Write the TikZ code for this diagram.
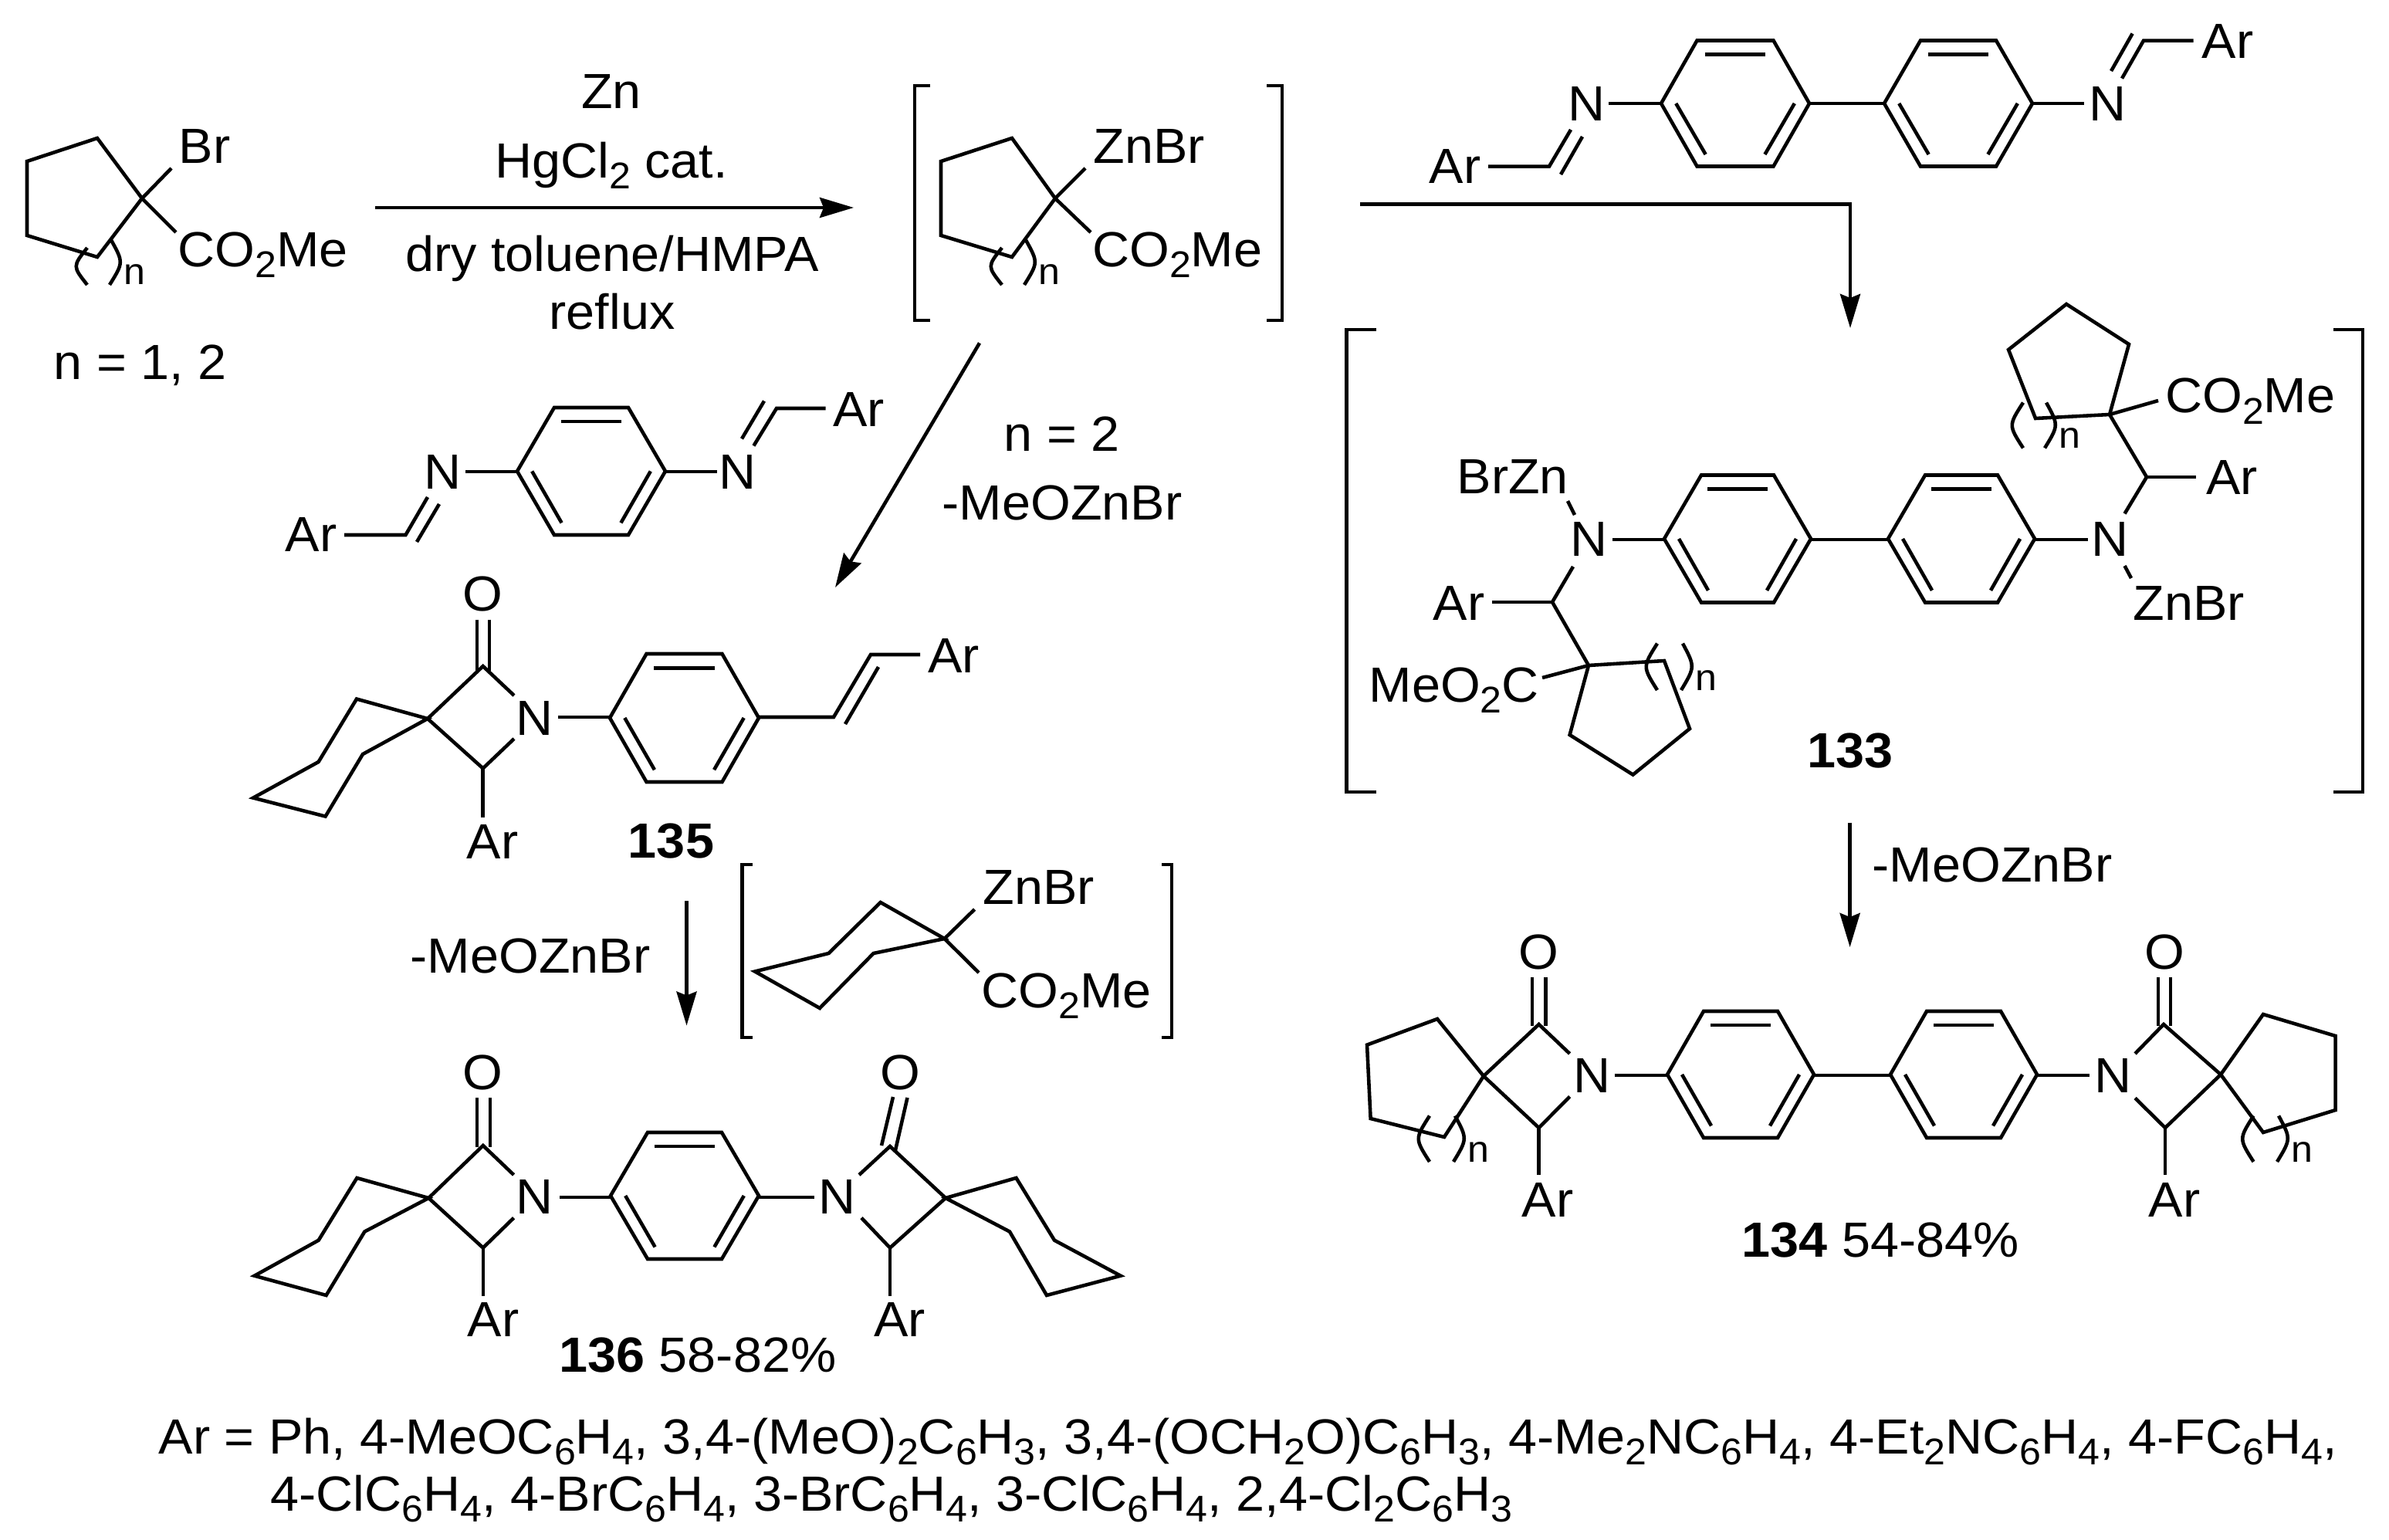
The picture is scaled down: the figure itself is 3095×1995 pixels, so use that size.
\documentclass[tikz,border=0pt]{standalone}
\usepackage{fontspec}
\setmainfont[FakeStretch=1.04]{Liberation Sans}
\usetikzlibrary{arrows.meta}

\newcommand{\chemfont}{\fontsize{18.2}{22}\selectfont}
\newcommand{\lsub}[1]{\raisebox{-0.14cm}{\fontsize{13.7}{14}\selectfont #1}}

\tikzset{
  bond/.style={line width=1.3pt},
  rxn/.style={line width=1.3pt,-{Stealth[length=0.44cm,width=0.26cm,inset=0.05cm]}},
  lab/.style={inner sep=0pt,anchor=base west,font=\chemfont},
  atom/.style={inner sep=0pt,anchor=base,font=\chemfont},
  cnt/.style={inner sep=0pt,anchor=base west,font=\fontsize{13.7}{14}\selectfont},
}

% centre x, centre y, half width, half top edge, half height
\newcommand{\arring}[5]{
\draw[bond] ({#1-#3},#2) -- ({#1-#4},{#2-#5}) -- ({#1+#4},{#2-#5}) -- ({#1+#3},#2)
  -- ({#1+#4},{#2+#5}) -- ({#1-#4},{#2+#5}) -- cycle;
\draw[bond] ({#1-0.41*#3},{#2-0.78*#5}) -- ({#1+0.41*#3},{#2-0.78*#5});
\draw[bond] ({#1-0.8*#3},#2) -- ({#1-0.4*#3},{#2+0.81*#5});
\draw[bond] ({#1+0.8*#3},#2) -- ({#1+0.4*#3},{#2+0.81*#5});
}
% name, left x, left top y, right x, right top y, bottom y
\newcommand{\nloop}[6]{
\draw[bond] ({#2+14},#3) .. controls ({#2-5},{(#3+#6)/2}) .. ({#2+14},#6);
\draw[bond] ({#4-11},#5) .. controls ({#4+5},{(#5+#6)/2}) .. ({#4-13},#6);
\node[cnt] (#1) at ({#4+5},#6) {n};
}
% left x, right x, top y, bottom y, tick
\newcommand{\brpair}[5]{
\draw[bond] ({#1+#5},#3) -- (#1,#3) -- (#1,#4) -- ({#1+#5},#4);
\draw[bond] ({#2-#5},#3) -- (#2,#3) -- (#2,#4) -- ({#2-#5},#4);
}

\begin{document}
\begin{tikzpicture}[x=0.01cm,y=-0.01cm]
\useasboundingbox (0,0) rectangle (3095,1995);

% repeated atoms
\foreach \x/\y/\nm in {2852/75.5/arA,1851/238/arB,1078.5/552.6/arC,369/715/arD,2857.5/640.5/arE,1856/803/arF,
  1201.5/871/arG,604/1112/arH,1971/1576/arI,2783/1576/arJ,605/1731.7/arK,1131.6/1731.7/arL}{
\node[lab] (\nm) at (\x,\y){Ar};}

\foreach \x/\y/\nm in {2055/157/nA,2730/157/nB,574/633.5/nC,956/633.5/nD,2733/721/nE,2058/721/nF,
  2062/1415/nG,2737/1415/nH,693/952/nI,692.6/1572/nJ,1084.6/1572/nK}{
\node[atom] (\nm) at (\x,\y){N};}

\foreach \x/\y/\nm in {1993/1255/oA,2804/1255/oB,625.6/791/oC,625.5/1411/oD,1166/1411/oE}{
\node[atom] (\nm) at (\x,\y){O};}

% bromoester
\draw[bond] (184,257) -- (126,179) -- (35,209) -- (35,305) -- (126,333) -- cycle;
\draw[bond] (222,218) -- (184,257) -- (228,301);
\nloop{cntA}{99}{321}{155}{311}{369}
\node[lab] (brA) at (231,212){Br};
\node[lab] (esterA) at (230,346){CO\lsub{2}Me};
\node[lab] (nval) at (69,492){n = 1, 2};

% zinc reagent
\draw[bond] (1367,257) -- (1311,179) -- (1219,209) -- (1219,305) -- (1311,333) -- cycle;
\draw[bond] (1406,218) -- (1367,257) -- (1413,301);
\nloop{cntB}{1284}{321}{1340}{311}{369}
\node[lab] (znA) at (1416,212){ZnBr};
\node[lab] (esterB) at (1414.5,346){CO\lsub{2}Me};
\brpair{1185}{1661}{111}{415}{20}

% conditions
\node[atom] (cZn) at (792,141){Zn};
\node[atom] (cHg) at (792,231){HgCl\lsub{2} cat.};
\node[atom] (cTol) at (793,352){dry toluene/HMPA};
\node[atom] (cRef) at (793,427){reflux};
\coordinate (aS) at (486,269);
\coordinate (aE) at (1106,269);
\draw[rxn] (aS) -- (aE);

% biphenyl diimine
\arring{2248}{134}{96}{49.5}{81.5}
\arring{2537}{134}{96}{49}{81.5}
\draw[bond] (2344,134) -- (2441,134);
\draw[bond] (2084,134) -- (2152,134);
\draw[bond] (2633,134) -- (2700,134);
\draw[bond] (1928,215.6) -- (2007,215.6) -- (2035,168);
\draw[bond] (2022,226) -- (2050,177);
\draw[bond] (2841.5,52.6) -- (2777,52.6) -- (2749,101.6);
\draw[bond] (2735,92) -- (2762.6,43.5);
\coordinate (bS) at (1762,264.5);
\coordinate (bC) at (2397,264.5);
\coordinate (bE) at (2397,425);
\draw[rxn] (bS) -- (bC) -- (bE);

% 133
\arring{2251}{698}{95}{47}{82.5}
\arring{2541}{698}{95}{47}{82.5}
\draw[bond] (2346,699) -- (2445.5,699);
\draw[bond] (2089,699) -- (2155.5,699);
\draw[bond] (2636,699) -- (2705,699);
\draw[bond] (2677,394) -- (2758,446) -- (2733,537) -- (2637,542) -- (2602,453) -- cycle;
\draw[bond] (2796,519) -- (2733,537) -- (2781,618) -- (2752.5,665.4);
\draw[bond] (2781,618) -- (2845,618);
\draw[bond] (2752.5,733) -- (2761,749);
\nloop{cntC}{2607}{521.6}{2662}{521.6}{580.4}
\node[lab] (esterC) at (2804.5,535){CO\lsub{2}Me};
\node[lab] (znB) at (2763,803){ZnBr};
\node[lab] (znC) at (1887,640){BrZn};
\draw[bond] (2031,649) -- (2040,667);
\draw[bond] (2038,734) -- (2011,780) -- (2058,862);
\draw[bond] (1933,780) -- (2011,780);
\draw[bond] (1998,878) -- (2058,862);
\draw[bond] (2058,862) -- (2156,856) -- (2189,944) -- (2115.5,1003.6) -- (2033.6,952) -- cycle;
\nloop{cntD}{2133}{833.6}{2191}{833.6}{894}
\node[lab] (esterD) at (1773,909.5){MeO\lsub{2}C};
\node[atom] (l133) at (2397,994){\textbf{133}};
\brpair{1744.5}{3061}{427}{1026}{38}

\coordinate (cS) at (2396.6,1065.6);
\coordinate (cE) at (2396.6,1227);
\draw[rxn] (cS) -- (cE);
\node[lab] (lossA) at (2425,1142.4){-MeOZnBr};

% 134
\arring{2255}{1392}{95}{48}{82}
\arring{2544}{1392}{95}{48}{82}
\draw[bond] (2349.5,1393) -- (2449,1393);
\draw[bond] (2091.5,1393) -- (2160,1393);
\draw[bond] (2638.6,1393) -- (2707,1393);
\draw[bond] (1985,1265.6) -- (1985,1329);
\draw[bond] (2002.5,1265.6) -- (2002.5,1329);
\draw[bond] (2033.6,1365) -- (1993.6,1327) -- (1922,1394) -- (1993.6,1461) -- (2033.6,1420.6);
\draw[bond] (1993.6,1461) -- (1993.6,1522);
\draw[bond] (1922,1394) -- (1862,1320) -- (1771,1353.6) -- (1775.6,1449) -- (1871,1473) -- cycle;
\nloop{cntE}{1838}{1445.5}{1896}{1445.5}{1505}
\draw[bond] (2796,1265.6) -- (2796,1329);
\draw[bond] (2812,1265.6) -- (2812,1329);
\draw[bond] (2766,1365) -- (2803,1327) -- (2877,1392) -- (2805,1461) -- (2766,1422.5);
\draw[bond] (2805,1461) -- (2805,1522);
\draw[bond] (2877,1392) -- (2932,1314) -- (3025.6,1342) -- (3025.6,1438) -- (2932,1467) -- cycle;
\nloop{cntF}{2905.5}{1445.5}{2963}{1445.5}{1505}
\node[lab] (l134) at (2256,1628){\textbf{134} 54-84\%};

% phenylene diimine
\arring{766}{610.5}{96}{48}{82.5}
\draw[bond] (603,611) -- (670,611);
\draw[bond] (862,611) -- (928.6,611);
\draw[bond] (976.4,577.5) -- (1006,529) -- (1069.5,529);
\draw[bond] (961,568.4) -- (990,519.5);
\draw[bond] (554,644) -- (525.5,693) -- (446,693);
\draw[bond] (569,653) -- (540,702);
\coordinate (dS) at (1269,444.4);
\coordinate (dE) at (1082,761);
\draw[rxn] (dS) -- (dE);
\node[lab] (nTwo) at (1300,585){n = 2};
\node[lab] (lossB) at (1220,674){-MeOZnBr};

% 135
\arring{886.5}{930}{96.5}{49}{83}
\draw[bond] (618,802.6) -- (618,869);
\draw[bond] (634,802.6) -- (634,869);
\draw[bond] (666,901) -- (625.7,863) -- (554,931) -- (625.7,995.4) -- (666,957);
\draw[bond] (625.7,995.4) -- (625.7,1059);
\draw[bond] (554,931) -- (462,905.5) -- (412.6,987) -- (328,1033.6) -- (421.6,1057.6) -- (470,977) -- cycle;
\draw[bond] (723,929) -- (790,929);
\draw[bond] (983,929) -- (1080,929) -- (1128,848) -- (1192,848);
\draw[bond] (1095,938) -- (1138,864);
\node[atom] (l135) at (869.5,1111.5){\textbf{135}};

\coordinate (eS) at (889.5,1167);
\coordinate (eE) at (889.5,1328.6);
\draw[rxn] (eS) -- (eE);
\node[lab] (lossC) at (531,1260.7){-MeOZnBr};

% cyclohexyl zinc reagent
\draw[bond] (1223.6,1216) -- (1140.7,1169) -- (1073.5,1235) -- (978,1258.5) -- (1062,1306) -- (1131.6,1235) -- cycle;
\draw[bond] (1262.6,1178) -- (1223.6,1216) -- (1268,1260);
\node[lab] (znD) at (1273,1171.4){ZnBr};
\node[lab] (esterE) at (1271,1305){CO\lsub{2}Me};
\brpair{961.6}{1518}{1120}{1344}{13}

% 136
\arring{887}{1549}{96}{48}{82}
\draw[bond] (725,1551) -- (791.6,1551);
\draw[bond] (983,1551) -- (1055,1551);
\draw[bond] (618,1422) -- (618,1486);
\draw[bond] (635,1422) -- (635,1486);
\draw[bond] (665.6,1522) -- (625.8,1484) -- (555.3,1552) -- (625.8,1616.5) -- (665.6,1577.7);
\draw[bond] (625.8,1616.5) -- (625.8,1679);
\draw[bond] (555.3,1552) -- (462.4,1526) -- (412.7,1606.7) -- (329.7,1652.7) -- (422.6,1678) -- (472.4,1595.5) -- cycle;
\draw[bond] (1142,1484) -- (1157,1421);
\draw[bond] (1160,1490) -- (1175.5,1422);
\draw[bond] (1113,1522) -- (1153,1485) -- (1225,1552) -- (1153,1616.5) -- (1116,1577.7);
\draw[bond] (1153,1616.5) -- (1153,1679);
\draw[bond] (1225,1552) -- (1316.5,1526) -- (1366,1606.7) -- (1451.7,1652.7) -- (1356,1678) -- (1308,1595.5) -- cycle;
\node[lab] (l136) at (723.6,1777){\textbf{136} 58-82\%};

% Ar key
\node[lab] (keyA) at (205,1883){Ar = Ph, 4-MeOC\lsub{6}H\lsub{4}, 3,4-(MeO)\lsub{2}C\lsub{6}H\lsub{3}, 3,4-(OCH\lsub{2}O)C\lsub{6}H\lsub{3}, 4-Me\lsub{2}NC\lsub{6}H\lsub{4}, 4-Et\lsub{2}NC\lsub{6}H\lsub{4}, 4-FC\lsub{6}H\lsub{4},};
\node[lab] (keyB) at (350,1957){4-ClC\lsub{6}H\lsub{4}, 4-BrC\lsub{6}H\lsub{4}, 3-BrC\lsub{6}H\lsub{4}, 3-ClC\lsub{6}H\lsub{4}, 2,4-Cl\lsub{2}C\lsub{6}H\lsub{3}};

\end{tikzpicture}
\end{document}
